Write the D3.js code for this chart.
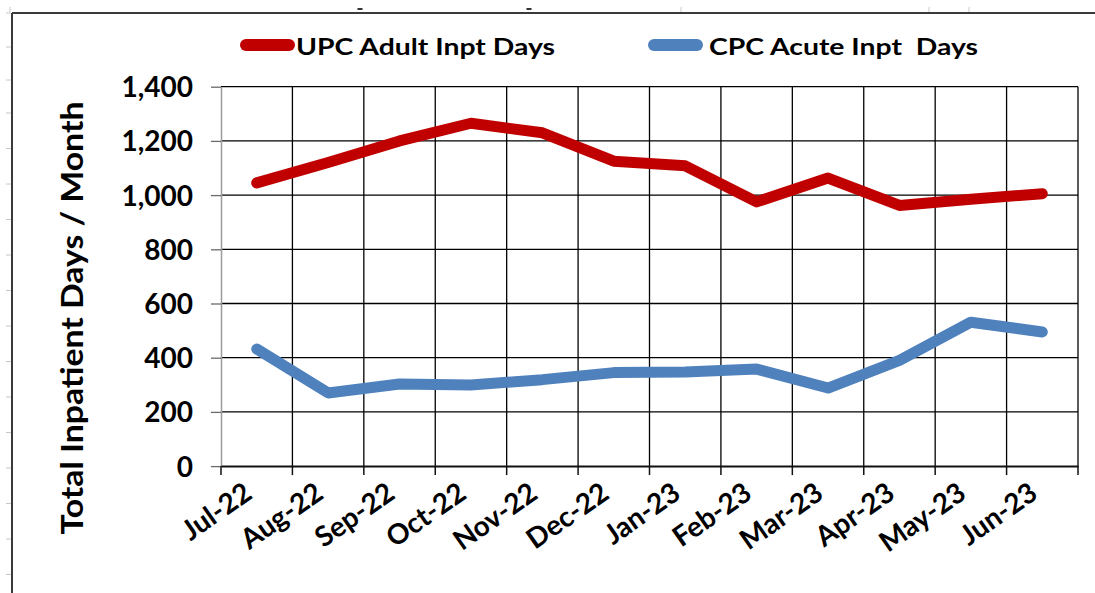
<!DOCTYPE html>
<html>
<head>
<meta charset="utf-8">
<script src="https://cdn.jsdelivr.net/npm/d3@7"></script>
<style>
  html, body { margin: 0; padding: 0; background: #fff; }
  svg { display: block; }
  text { font-family: Lato, "Open Sans", sans-serif; font-weight: 700; fill: #000; }
</style>
</head>
<body>
<svg id="chart" width="1095" height="593"></svg>
<script>
// Monthly inpatient days, July 2022 through June 2023
const months = ["Jul-22", "Aug-22", "Sep-22", "Oct-22", "Nov-22", "Dec-22",
                "Jan-23", "Feb-23", "Mar-23", "Apr-23", "May-23", "Jun-23"];
const upcAdultDays = [1045, 1120, 1200, 1265, 1230, 1125, 1108, 975, 1063, 962, 985, 1005];
const cpcAcuteDays = [432, 270, 303, 299, 319, 345, 347, 358, 288, 390, 531, 495];
const yTickValues = [0, 200, 400, 600, 800, 1000, 1200, 1400];
const seriesNames = ["UPC Adult Inpt Days", "CPC Acute Inpt  Days"];
const seriesColors = ["#C00000", "#4F81BD"];

const svg = d3.select("#chart");
const W = 1095, H = 593;
const plot = { left: 221, right: 1078, top: 86.7, bottom: 466.1 };

// Sheet frame around the chart object
const frame = svg.append("g");
frame.append("line").attr("x1", 12).attr("x2", W).attr("y1", 13).attr("y2", 13)
  .attr("stroke", "#3a3a3a").attr("stroke-width", 2);
frame.append("line").attr("x1", 12).attr("x2", 12).attr("y1", 13).attr("y2", H)
  .attr("stroke", "#3a3a3a").attr("stroke-width", 2);
const rowMarks = [13, 47, 80].concat(d3.range(0, 14).map(k => 113 + k * 35.5));
frame.selectAll(".rowmark").data(rowMarks).join("line")
  .attr("x1", 6).attr("x2", 11).attr("y1", d => d).attr("y2", d => d)
  .attr("stroke", "#c8c8c8").attr("stroke-width", 1);
const colMarks = [10, 681, 929, 969];
frame.selectAll(".colmark").data(colMarks).join("line")
  .attr("x1", d => d).attr("x2", d => d).attr("y1", 7).attr("y2", 12)
  .attr("stroke", "#c8c8c8").attr("stroke-width", 1);
[360, 529].forEach(x => frame.append("rect").attr("x", x - 2.5).attr("y", 8).attr("width", 5).attr("height", 2).attr("fill", "#333"));

// Scales
const x = d3.scaleBand().domain(months).range([plot.left, plot.right]);
const y = d3.scaleLinear().domain([0, 1400]).range([plot.bottom, plot.top]);

// Gridlines
const grid = svg.append("g");
grid.selectAll(".hgrid").data(yTickValues.filter(v => v > 0)).join("line")
  .attr("x1", plot.left).attr("x2", plot.right)
  .attr("y1", d => y(d)).attr("y2", d => y(d))
  .attr("stroke", "#000").attr("stroke-width", 1.3);
const edges = months.slice(1).map(m => x(m)).concat([plot.right]);
grid.selectAll(".vgrid").data(edges).join("line")
  .attr("x1", d => d).attr("x2", d => d)
  .attr("y1", plot.top).attr("y2", plot.bottom)
  .attr("stroke", "#000").attr("stroke-width", 1.3);

// Y axis
const yAxis = svg.append("g").attr("transform", `translate(${plot.left},0)`)
  .call(d3.axisLeft(y).tickValues(yTickValues).tickFormat(d3.format(","))
    .tickSize(10).tickSizeOuter(0).tickPadding(18));
yAxis.select(".domain").attr("stroke", "#9a9a9a").attr("stroke-width", 1.5);
yAxis.selectAll(".tick line").attr("stroke", "#6a6a6a").attr("stroke-width", 1.3);
yAxis.selectAll(".tick text").attr("font-size", 28).attr("dy", "0.36em")
  .style("font-family", "Lato, sans-serif").style("font-weight", 700).attr("fill", "#000");

// X axis: baseline, boundary ticks and rotated month labels
const xAxis = svg.append("g").attr("transform", `translate(0,${plot.bottom})`)
  .call(d3.axisBottom(x).tickSize(0).tickSizeOuter(0));
xAxis.select(".domain").attr("stroke", "#111").attr("stroke-width", 2);
xAxis.selectAll(".tick text")
  .attr("font-size", 28)
  .style("font-family", "Lato, sans-serif").style("font-weight", 700).attr("fill", "#000")
  .attr("text-anchor", "end")
  .attr("x", -3).attr("y", 31).attr("dy", null)
  .attr("transform", "rotate(-35,-3,31)");
svg.append("g").selectAll("line").data(months.map(m => x(m)).concat([plot.right])).join("line")
  .attr("x1", d => d).attr("x2", d => d)
  .attr("y1", plot.bottom).attr("y2", plot.bottom + 9)
  .attr("stroke", "#111").attr("stroke-width", 1.5);

// Y axis title
svg.append("text")
  .attr("transform", "translate(83,318) rotate(-90)")
  .attr("text-anchor", "middle")
  .attr("font-size", 30.5)
  .attr("textLength", 433).attr("lengthAdjust", "spacingAndGlyphs")
  .text("Total Inpatient Days / Month");

// Series lines
const line = d3.line().x((d, i) => x(months[i]) + x.bandwidth() / 2).y(d => y(d));
[upcAdultDays, cpcAcuteDays].forEach((vals, i) => {
  svg.append("path").datum(vals)
    .attr("d", line)
    .attr("fill", "none")
    .attr("stroke", seriesColors[i])
    .attr("stroke-width", 11)
    .attr("stroke-linecap", "round")
    .attr("stroke-linejoin", "round");
});

// Legend
const legendItems = [
  { name: seriesNames[0], color: seriesColors[0], x0: 240, x1: 295, tx: 296, tw: 259 },
  { name: seriesNames[1], color: seriesColors[1], x0: 648, x1: 703, tx: 709, tw: 269 }
];
const legend = svg.append("g");
legendItems.forEach(it => {
  legend.append("line")
    .attr("x1", it.x0 + 6).attr("x2", it.x1 - 6).attr("y1", 45).attr("y2", 45)
    .attr("stroke", it.color).attr("stroke-width", 12).attr("stroke-linecap", "round");
  legend.append("text")
    .attr("x", it.tx).attr("y", 55)
    .attr("font-size", 23.5)
    .attr("textLength", it.tw).attr("lengthAdjust", "spacingAndGlyphs")
    .attr("xml:space", "preserve")
    .style("white-space", "pre")
    .text(it.name);
});
</script>
</body>
</html>
